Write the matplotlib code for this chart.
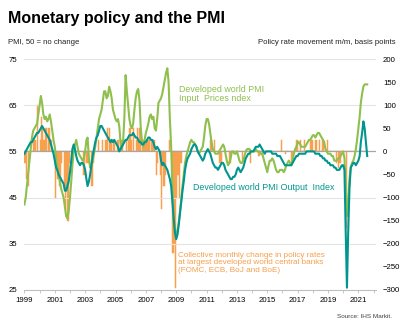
import numpy as np
import pandas as pd
import matplotlib
matplotlib.use("Agg")
import matplotlib.pyplot as plt

plt.rcParams['font.family'] = ['Liberation Sans', 'DejaVu Sans']

# ---------------- data (monthly, Jan 1999 - Aug 2021) ----------------
output_index = [
    54.5, 55, 55.5, 56, 56.5, 57, 57, 57.5, 58, 58.5, 59, 59,            # 1999
    59.5, 60, 60.5, 60, 59.5, 59, 58.5, 58, 57.5, 56.5, 55.5, 54.5,      # 2000
    53, 51.5, 51, 50, 49.5, 49, 48.5, 48, 46.5, 46.5, 47.5, 48.5,        # 2001
    50.5, 53, 55.5, 56.5, 55.5, 54, 53, 52.5, 52, 52.5, 52.5, 52,        # 2002
    51, 49, 47.5, 48.5, 50, 52, 54, 55.5, 57, 58, 58.5, 59.5,            # 2003
    60.5, 60.5, 60, 59.5, 59, 58.5, 58, 57.5, 57, 57.5, 57, 57.5,        # 2004
    57, 56.5, 56, 55, 55.5, 56, 56.5, 57, 57.5, 57.5, 58, 58.5,          # 2005
    58.5, 58.5, 59, 58.5, 58, 58, 57.5, 57, 57, 56.5, 56.5, 57,          # 2006
    57, 57.5, 58, 58, 57.5, 57.5, 57, 56, 55.5, 56, 55.5, 55,            # 2007
    53, 52, 52.5, 52, 51.5, 51, 50, 49, 47.5, 44, 40.5, 37.5,            # 2008
    36, 37, 39, 41.5, 44, 46.5, 48.5, 51, 52.5, 53.5, 54, 54.5,          # 2009
    55.5, 56, 56.5, 56.5, 56, 55, 54.5, 54, 53.5, 53, 53.5, 54.5,        # 2010
    55, 55.5, 55, 54.5, 53.5, 52.5, 52, 51.5, 51.5, 51, 51.5, 52,        # 2011
    52.5, 52.5, 52, 51, 50.5, 50, 49.5, 49, 49, 49.5, 49.5, 50,          # 2012
    51, 51.5, 51, 50.5, 51, 51.5, 52.5, 53.5, 54, 54.5, 54.5, 55,        # 2013
    55, 55, 55.5, 56, 56, 56, 56.5, 56, 55.5, 55, 54.5, 55,              # 2014
    55, 55, 55, 55, 54.5, 54.5, 54.5, 54.5, 54, 54, 54, 53.5,            # 2015
    53, 52.5, 52, 52, 52, 52, 52, 52, 52.5, 53, 53.5, 54,                # 2016
    54, 54.5, 54.5, 54.5, 54.5, 54.5, 54.5, 55, 55, 55, 55, 55,          # 2017
    55, 55, 54.5, 54.5, 54.5, 54.5, 54, 54, 53.5, 53.5, 53, 53,          # 2018
    52.5, 52.5, 52, 52, 52, 51.5, 51.5, 51, 51, 51, 51.5, 52,            # 2019
    52, 51, 38, 25.5, 37.5, 47, 51.5, 52, 52.5, 52.5, 52, 52.5,          # 2020
    53, 54, 57, 59, 61.5, 60, 57, 54,                                    # 2021
]

input_prices = [
    43.5, 45, 47.5, 50.5, 53, 55.5, 58, 59.5, 60, 60.5, 61, 63,          # 1999
    65, 67, 65.5, 63, 62, 62.5, 61.5, 62, 63, 61.5, 59.5, 57.5,          # 2000
    56, 53.5, 51.5, 50, 48.5, 47, 46, 45, 43, 41, 40.5, 42,              # 2001
    45, 48.5, 52, 55, 56.5, 57.5, 56, 54.5, 54, 53.5, 53, 53.5,          # 2002
    55, 57.5, 58, 53.5, 51.5, 52, 53, 54.5, 56, 58, 60, 62,              # 2003
    63, 64, 66, 68, 68, 66.5, 67, 69, 68, 66.5, 64, 63,                  # 2004
    62, 61.5, 62, 60.5, 57, 55.5, 57, 62, 71.5, 68, 65, 62,              # 2005
    60.5, 60, 61, 64, 66.5, 68, 68.5, 66, 60, 57, 56, 57.5,              # 2006
    59, 60, 61, 62.5, 63, 62, 62.5, 60, 59.5, 62, 65.5, 66,              # 2007
    66.5, 67.5, 69, 70.5, 72, 73, 70, 62, 56, 47, 40, 37,                # 2008
    37.5, 38, 39.5, 42, 44.5, 47.5, 50, 52.5, 54, 55, 56, 57,            # 2009
    57.5, 57, 57, 56.5, 56, 55, 54.5, 55, 55.5, 56, 58, 60.5,            # 2010
    62, 62, 61, 59, 57, 55.5, 55, 54.5, 54.5, 54.5, 55, 55.5,            # 2011
    56, 56.5, 56, 54.5, 53, 52, 52.5, 53.5, 55, 55, 54.5, 54.5,          # 2012
    55, 54, 53, 52.5, 52.5, 53, 54, 55, 55.5, 55.5, 55.5, 55,            # 2013
    55, 55, 55, 55.5, 55, 55, 55, 54.5, 54.5, 53.5, 52.5, 51.5,          # 2014
    50.5, 52, 53, 53, 53.5, 53, 52, 51, 50.5, 50.5, 51, 51,              # 2015
    51, 50.5, 51, 52, 52.5, 53, 52.5, 52, 53, 54.5, 55.5, 56,            # 2016
    57, 57, 56.5, 56, 56, 56, 56, 56.5, 57, 57.5, 57.5, 58,              # 2017
    58.5, 58.5, 58, 58.5, 59, 59, 58.5, 58, 57.5, 57, 55.5, 55,          # 2018
    54.5, 54.5, 54.5, 54, 54, 53, 53, 53, 53.5, 53.5, 54, 54.5,          # 2019
    55, 53.5, 48, 41, 44, 49, 51.5, 52.5, 53, 54, 55.5, 57.5,            # 2020
    60, 62.5, 65.5, 67.5, 69, 69.5, 69.5, 69.5,                          # 2021
]

policy_change_bp = [
    -25, -60, 0, -75, 0, 0, 0, 25, 25, 0, 100, 0,                        # 1999
    25, 75, 50, 25, 50, 50, 0, 50, 0, 25, 0, 0,                          # 2000
    -100, -40, -60, -75, -75, -25, 0, -75, -125, -75, -150, -25,         # 2001
    0, 0, 0, 0, 0, 0, 0, 0, 0, 0, -50, -50,                              # 2002
    0, -25, -25, 0, 0, -75, -25, 0, 0, 0, 25, 0,                         # 2003
    0, 25, 0, 0, 25, 50, 0, 50, 25, 0, 25, 25,                           # 2004
    0, 25, 25, 0, 25, 25, 0, 0, 25, 0, 25, 50,                           # 2005
    25, 0, 50, 0, 25, 50, 25, 50, 0, 25, 25, 25,                         # 2006
    25, 25, 25, 0, 25, 25, 25, 0, -50, -25, 0, -50,                      # 2007
    -125, -25, -75, -50, 0, 0, 25, 0, 0, -220, -200, -295,               # 2008
    -100, -50, -100, -25, -25, 0, 0, 0, 0, 0, 0, 0,                      # 2009
    0, 0, 0, 0, 0, 0, 0, 0, 0, 0, 0, 0,                                  # 2010
    0, 0, 0, 25, 0, 0, 25, 0, 0, 0, -25, -25,                            # 2011
    0, 0, 0, 0, 0, 0, -25, 0, 0, 0, 0, 0,                                # 2012
    0, 0, 0, 0, -25, 0, 0, 0, 0, 0, -25, 0,                              # 2013
    0, 0, 0, 0, 0, -10, 0, 0, -10, 0, 0, 0,                              # 2014
    0, 0, 0, 0, 0, 0, 0, 0, 0, 0, 0, 25,                                 # 2015
    0, 0, -5, 0, 0, 0, 0, -25, 0, 0, 0, 25,                              # 2016
    0, 0, 25, 0, 0, 25, 0, 0, 0, 0, 25, 25,                              # 2017
    0, 0, 25, 0, 0, 25, 0, 25, 25, 0, 0, 25,                             # 2018
    0, 0, 0, 0, 0, 0, -25, 0, -35, -25, 0, 0,                            # 2019
    0, 0, -165, 0, 0, 0, 0, 0, 0, 0, 0, 0,                               # 2020
    0, 0, 0, 0, 0, 0, 0, 0,                                              # 2021
]

dates = pd.date_range("1999-01-01", periods=len(output_index), freq="MS")
year_ticks = list(range(1999, 2022, 2))

GREEN = "#8FBF4D"
TEAL = "#00968F"
ORANGE = "#F7A04D"
GRID = "#E3E3E3"

# ---------------- figure ----------------
fig = plt.figure(figsize=(4.02, 3.27), dpi=100)
W, H = 402, 327
ax_l, ax_r, ax_t, ax_b = 24, 376, 59, 290
ax = fig.add_axes([ax_l / W, 1 - ax_b / H, (ax_r - ax_l) / W, (ax_b - ax_t) / H])
ax2 = ax.twinx()

ax2.set_ylim(-300, 200)
ax.set_ylim(25, 75)
xmin = pd.Timestamp("1999-01-01") - pd.Timedelta(days=10)
xmax = pd.Timestamp("2022-03-01")
ax.set_xlim(xmin, xmax)

ax.set_zorder(ax2.get_zorder() + 1)
ax.patch.set_visible(False)

ax2.bar(dates + pd.Timedelta(days=15), policy_change_bp, width=31, color=ORANGE,
        edgecolor=ORANGE, linewidth=0.35, zorder=2)

for yv in [35, 45, 65, 75]:
    ax.axhline(yv, color=GRID, lw=0.8, zorder=0)
ax.axhline(55, color="#A6A6A6", lw=0.9, zorder=1)

ax.plot(dates, input_prices, color=GREEN, lw=1.5, zorder=3, solid_joinstyle="round")
ax.plot(dates, output_index, color=TEAL, lw=1.5, zorder=4, solid_joinstyle="round")

for a in (ax, ax2):
    for s in a.spines.values():
        s.set_visible(False)
ax.spines['bottom'].set_visible(True)
ax.spines['bottom'].set_color("#BFBFBF")
ax.spines['bottom'].set_linewidth(0.8)

ax.set_yticks([25, 35, 45, 55, 65, 75])
ax2.set_yticks([-300, -250, -200, -150, -100, -50, 0, 50, 100, 150, 200])
ax.tick_params(axis='y', length=0, pad=5, labelsize=5.6, colors="#000000")
ax2.tick_params(axis='y', length=0, pad=5, labelsize=5.6, colors="#000000")

ax.set_xticks([pd.Timestamp(f"{y}-01-01") for y in year_ticks])
ax.set_xticklabels([str(y) for y in year_ticks])
ax.set_xticks([pd.Timestamp(f"{y}-01-01") for y in range(1999, 2023)], minor=True)
ax.tick_params(axis='x', which='both', length=2, width=0.6, color="#BFBFBF",
               direction='out', pad=3, labelsize=5.6)

# ---------------- text ----------------
fig.text(8 / W, 1 - 18 / H, "Monetary policy and the PMI", fontsize=11.5,
         fontweight='bold', ha='left', va='center', color="#000000")
fig.text(8 / W, 1 - 43 / H, "PMI, 50 = no change", fontsize=5.6,
         ha='left', va='center', color="#222222")
fig.text(396 / W, 1 - 43 / H, "Policy rate movement m/m, basis points", fontsize=5.6,
         ha='right', va='center', color="#222222")
fig.text(392 / W, 1 - 316 / H, "Source: IHS Markit.", fontsize=4.6,
         ha='right', va='center', color="#404040")

fig.text(179 / W, 1 - 94 / H, "Developed world PMI\nInput  Prices ndex", fontsize=6.4,
         ha='left', va='center', color=GREEN, linespacing=1.05)
fig.text(193 / W, 1 - 187 / H, "Developed world PMI Output  Index", fontsize=6.4,
         ha='left', va='center', color=TEAL)
fig.text(178 / W, 1 - 263 / H,
         "Collective monthly change in policy rates\nat largest developed world central banks\n(FOMC, ECB, BoJ and BoE)",
         fontsize=5.9, ha='left', va='center', color=ORANGE, linespacing=1.15)

fig.savefig("out.png", dpi=100)
